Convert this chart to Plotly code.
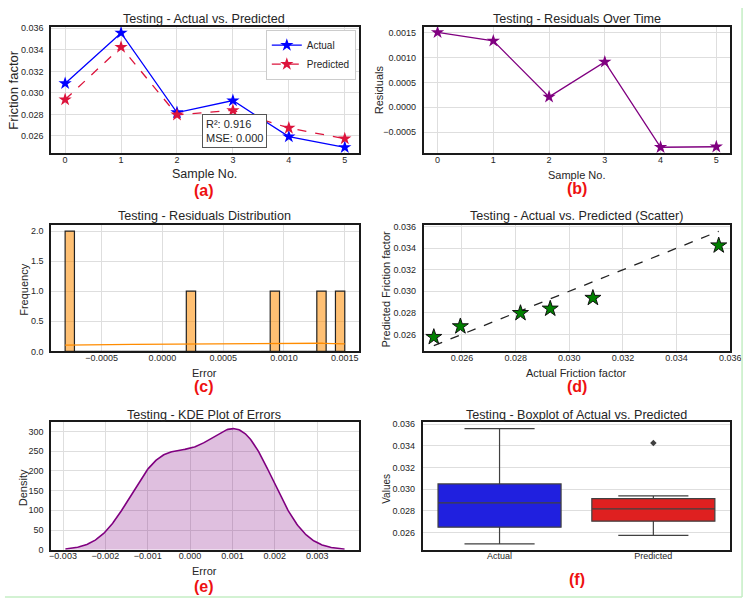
import numpy as np
import plotly.graph_objects as go

# ---------------- data ----------------
sample_no = [0, 1, 2, 3, 4, 5]
actual = [0.03088, 0.03557, 0.02818, 0.02929, 0.02594, 0.02495]
predicted = [0.02938, 0.03425, 0.02797, 0.02838, 0.02674, 0.02575]
residuals = [0.00150, 0.00133, 0.00021, 0.00091, -0.00080, -0.00079]
box_labels = ["Actual", "Predicted"]
metrics_text = "R²: 0.916<br>MSE: 0.000"

W, H = 756, 609
FONT = "Liberation Sans, Arial, sans-serif"
TXT = "#262626"
GRID = "#dedede"
FRAME = "#1a1a1a"


def dx(l, r):
    return [l / W, r / W]


def dy(t, b):
    return [1 - b / H, 1 - t / H]


def px(x):
    return x / W


def py(y):
    return 1 - y / H


def kde(data, grid):
    d = np.asarray(data, float)
    bw = d.std(ddof=1) * len(d) ** (-1 / 5)
    z = (grid[:, None] - d[None, :]) / bw
    return np.exp(-0.5 * z ** 2).sum(axis=1) / (len(d) * bw * np.sqrt(2 * np.pi)), bw


fig = go.Figure()

# (a) actual vs predicted lines
fig.add_trace(go.Scatter(x=sample_no, y=actual, mode="lines+markers", name="Actual",
                         line=dict(color="#0000ff", width=1.3),
                         marker=dict(symbol="star", size=10, color="#0000ff"),
                         xaxis="x", yaxis="y"))
fig.add_trace(go.Scatter(x=sample_no, y=predicted, mode="lines+markers", name="Predicted",
                         line=dict(color="#dc143c", width=1.3, dash="dash"),
                         marker=dict(symbol="star", size=10, color="#dc143c"),
                         xaxis="x", yaxis="y"))

# (b) residuals over time
fig.add_trace(go.Scatter(x=sample_no, y=residuals, mode="lines+markers", showlegend=False,
                         line=dict(color="#800080", width=1.3),
                         marker=dict(symbol="star", size=10, color="#800080"),
                         xaxis="x2", yaxis="y2"))

# (c) residual histogram + kde
counts, edges = np.histogram(residuals, bins=30)
centers = (edges[:-1] + edges[1:]) / 2
binw = edges[1] - edges[0]
fig.add_trace(go.Bar(x=centers, y=counts, width=binw, showlegend=False,
                     marker=dict(color="rgba(255,140,0,0.55)", line=dict(color="#222222", width=1.2)),
                     xaxis="x3", yaxis="y3"))
g_c = np.linspace(min(residuals), max(residuals), 200)
dens_c, _ = kde(residuals, g_c)
fig.add_trace(go.Scatter(x=g_c, y=dens_c * len(residuals) * binw, mode="lines", showlegend=False,
                         line=dict(color="#ff8c00", width=1.3), xaxis="x3", yaxis="y3"))

# (d) scatter actual vs predicted
lo, hi = min(actual), max(actual)
fig.add_trace(go.Scatter(x=[lo, hi], y=[lo, hi], mode="lines", showlegend=False,
                         line=dict(color="#222222", width=1.3, dash="dash"),
                         xaxis="x4", yaxis="y4"))
fig.add_trace(go.Scatter(x=actual, y=predicted, mode="markers", showlegend=False,
                         marker=dict(symbol="star", size=12, color="#008000",
                                     line=dict(color="#111111", width=1)),
                         xaxis="x4", yaxis="y4"))

# (e) kde of errors
_, bw = kde(residuals, np.array([0.0]))
g_e = np.linspace(min(residuals) - 3 * bw, max(residuals) + 3 * bw, 300)
dens_e, _ = kde(residuals, g_e)
fig.add_trace(go.Scatter(x=g_e, y=dens_e, mode="lines", fill="tozeroy", showlegend=False,
                         fillcolor="rgba(128,0,128,0.25)", line=dict(color="#800080", width=1.6),
                         xaxis="x5", yaxis="y5"))

# (f) boxplots
box_colors = ["#2020df", "#df2020"]
for lab, vals, col in zip(box_labels, [actual, predicted], box_colors):
    v = np.asarray(vals)
    q1, med, q3 = np.percentile(v, [25, 50, 75])
    iqr = q3 - q1
    inside = v[(v >= q1 - 1.5 * iqr) & (v <= q3 + 1.5 * iqr)]
    fig.add_trace(go.Box(x=[lab], q1=[q1], median=[med], q3=[q3],
                         lowerfence=[inside.min()], upperfence=[inside.max()],
                         width=0.8, whiskerwidth=0.57, fillcolor=col,
                         line=dict(color="#404040", width=1.2), showlegend=False,
                         xaxis="x6", yaxis="y6"))
    outl = v[(v < q1 - 1.5 * iqr) | (v > q3 + 1.5 * iqr)]
    if len(outl):
        fig.add_trace(go.Scatter(x=[lab] * len(outl), y=outl, mode="markers", showlegend=False,
                                 marker=dict(symbol="diamond", size=5, color="#404040"),
                                 xaxis="x6", yaxis="y6"))


def ax(domain, rng, standoff=4, **kw):
    d = dict(domain=domain, range=rng, showline=True, mirror=True, linecolor=FRAME, linewidth=1.8,
             showgrid=True, gridcolor=GRID, gridwidth=1, zeroline=False, ticks="",
             ticklabelstandoff=standoff, tickfont=dict(size=9, color=TXT, family=FONT))
    d.update(kw)
    return d


XS = -3
ylim_f = [0.02442, 0.03615]
L1, R1, L2, R2 = 50, 363, 429, 741
rows = [(24, 152), (225, 353), (425, 554)]

fig.update_layout(
    width=W, height=H, autosize=False, margin=dict(l=0, r=0, t=0, b=0),
    paper_bgcolor="white", plot_bgcolor="white", font=dict(family=FONT, color=TXT),
    showlegend=True,
    legend=dict(x=px(360), y=py(27), xanchor="right", yanchor="top", bgcolor="white",
                bordercolor="#cccccc", borderwidth=1, font=dict(size=10, color=TXT),
                itemwidth=30, tracegroupgap=0),
    xaxis=ax(dx(L1, R1), [-0.25, 5.25], standoff=XS, anchor="y", tickvals=sample_no),
    yaxis=ax(dy(*rows[0]), ylim_f, anchor="x", dtick=0.002, tick0=0.026, tickformat=".3f"),
    xaxis2=ax(dx(L2, R2), [-0.25, 5.25], standoff=XS, anchor="y2", tickvals=sample_no),
    yaxis2=ax(dy(*rows[0]), [-0.000915, 0.001615], anchor="x2", dtick=0.0005, tick0=0, tickformat=".4f"),
    xaxis3=ax(dx(L1, R1), [-0.000915, 0.001615], standoff=XS, anchor="y3", dtick=0.0005, tick0=0,
              tickformat=".4f"),
    yaxis3=ax(dy(*rows[1]), [0, 2.1], anchor="x3", dtick=0.5, tick0=0, tickformat=".1f"),
    xaxis4=ax(dx(L2, R2), [0.02457, 0.0360], standoff=XS, anchor="y4", dtick=0.002, tick0=0.026,
              tickformat=".3f"),
    yaxis4=ax(dy(*rows[1]), ylim_f, anchor="x4", dtick=0.002, tick0=0.026, tickformat=".3f"),
    xaxis5=ax(dx(L1, R1), [-0.00328, 0.00398], standoff=XS, anchor="y5", dtick=0.001, tick0=0,
              tickformat=".3f"),
    yaxis5=ax(dy(*rows[2]), [0, 323], anchor="x5", dtick=50, tick0=0),
    xaxis6=ax(dx(L2 - 1, R2), [-0.5, 1.5], standoff=XS, anchor="y6", type="category", showgrid=False),
    yaxis6=ax(dy(*rows[2]), ylim_f, anchor="x6", dtick=0.002, tick0=0.026, tickformat=".3f"),
)

ann = []


def text(x, y, s, size, angle=0, color=TXT, bold=False, **kw):
    ann.append(dict(x=px(x), y=py(y), xref="paper", yref="paper", text=(f"<b>{s}</b>" if bold else s),
                    showarrow=False, textangle=angle, xanchor="center", yanchor="middle",
                    font=dict(size=size, color=color, family=FONT), **kw))


# titles
text(206, 16, "Testing - Actual vs. Predicted", 12.6)
text(585, 16, "Testing - Residuals Over Time", 12.6)
text(206, 216, "Testing - Residuals Distribution", 12.6)
text(585, 216, "Testing - Actual vs. Predicted (Scatter)", 12.6)
text(206, 417, "Testing - KDE Plot of Errors", 12.6)
text(585, 417, "Testing - Boxplot of Actual vs. Predicted", 12.6)
# axis titles
text(206, 173.5, "Sample No.", 12.5)
text(12, 88, "Friction factor", 13, angle=-90)
text(585, 174, "Sample No.", 11)
text(383, 88, "Residuals", 11, angle=-90)
text(206, 375, "Error", 11)
text(23, 291, "Frequency", 11, angle=-90)
text(585, 375, "Actual Friction factor", 11)
text(391, 290, "Predicted Friction factor", 11, angle=-90)
text(206, 576, "Error", 11)
text(21, 491, "Density", 11, angle=-90)
text(391, 492, "Values", 10, angle=-90)
# panel letters
for (x, y, s) in [(206, 190, "(a)"), (585, 188, "(b)"), (206, 389, "(c)"),
                  (585, 389, "(d)"), (206, 591, "(e)"), (585, 584, "(f)")]:
    text(x, y, s, 16, color="#ee1111", bold=True)
# metrics box
ann.append(dict(x=px(203), y=py(130), xref="paper", yref="paper", text=metrics_text, showarrow=False,
                xanchor="left", yanchor="middle", align="left", bgcolor="white", bordercolor="#555555",
                borderwidth=1, borderpad=3, font=dict(size=11, color=TXT, family=FONT)))
fig.update_layout(annotations=ann)

# light green frame
fig.update_layout(shapes=[
    dict(type="line", xref="paper", yref="paper", x0=px(753), x1=px(753), y0=py(5), y1=py(602),
         line=dict(color="#c4eec4", width=1.5)),
    dict(type="line", xref="paper", yref="paper", x0=px(3), x1=px(753), y0=py(602), y1=py(602),
         line=dict(color="#c4eec4", width=1.5)),
])

fig.write_html("out.html")
